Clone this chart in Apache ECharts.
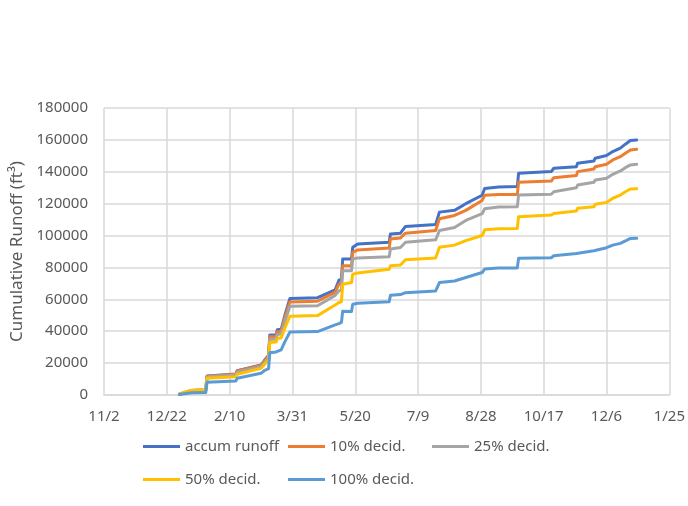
<!DOCTYPE html>
<html>
<head>
<meta charset="utf-8">
<script src="https://cdn.jsdelivr.net/npm/echarts@6/dist/echarts.min.js"></script>
<style>
  html, body { margin: 0; padding: 0; background: #ffffff; }
  #chart { width: 688px; height: 506px; }
</style>
</head>
<body>
<div id="chart"></div>
<script>
// Date axis: runs from 11/2 to 1/25 with a tick every 50 days
const axisStart = '2015-11-02';
const axisEnd = '2017-01-25';
const tickStepDays = 50;

// Value axis ticks (ft³)
const yMin = 0;
const yMax = 180000;
const yStep = 20000;

const seriesNames = ['accum runoff', '10% decid.', '25% decid.', '50% decid.', '100% decid.'];

// Daily readings of the cumulative runoff record
const dates = [
  '2016-01-01', '2016-01-05', '2016-01-11', '2016-01-22', '2016-01-23',
  '2016-02-15', '2016-02-16', '2016-03-06', '2016-03-09', '2016-03-12',
  '2016-03-13', '2016-03-18', '2016-03-19', '2016-03-22', '2016-03-25',
  '2016-03-29', '2016-04-20', '2016-05-04', '2016-05-07', '2016-05-09',
  '2016-05-10', '2016-05-17', '2016-05-18', '2016-05-22', '2016-06-16',
  '2016-06-17', '2016-06-25', '2016-06-29', '2016-07-23', '2016-07-26',
  '2016-08-07', '2016-08-16', '2016-08-29', '2016-08-31', '2016-09-11',
  '2016-09-26', '2016-09-27', '2016-10-23', '2016-10-25', '2016-11-12',
  '2016-11-13', '2016-11-26', '2016-11-27', '2016-12-06', '2016-12-11',
  '2016-12-17', '2016-12-21', '2016-12-25', '2016-12-30'
];

const accumRunoff = [
  500, 1500, 2800, 3100, 11900,
  13200, 15300, 18800, 22000, 25000,
  37700, 37700, 41000, 41200, 50000,
  60500, 61000, 66000, 72000, 72600,
  85300, 85300, 92600, 94700, 95800,
  101000, 101500, 105700, 107000, 114700,
  115800, 120000, 125300, 129500, 130500,
  130700, 139000, 140100, 142200, 143200,
  145300, 146800, 148500, 150200, 152700,
  154800, 157300, 159600, 160000
];

const decid10 = [
  500, 1500, 2800, 3100, 11800,
  13000, 15000, 18500, 21500, 24500,
  36500, 36500, 39700, 40000, 48500,
  58400, 58800, 64500, 69500, 70000,
  81000, 81000, 89500, 91000, 92200,
  97900, 98500, 101500, 103200, 110500,
  112600, 115800, 122000, 125300, 125700,
  125800, 133400, 134200, 136300, 137600,
  140100, 141800, 143200, 144700, 147400,
  149500, 151600, 153700, 154100
];

const decid25 = [
  500, 1500, 2800, 3100, 11300,
  12500, 14300, 17800, 20500, 23500,
  35000, 35000, 38000, 38300, 46000,
  55600, 56000, 62500, 65300, 66000,
  77900, 78000, 85300, 86000, 86700,
  91600, 92500, 95800, 97300, 103200,
  105000, 109500, 113700, 116800, 117900,
  118100, 125400, 125900, 127500, 130000,
  131700, 133400, 134900, 135900, 138400,
  140500, 142600, 144300, 144700
];

const decid50 = [
  600, 1700, 3000, 3300, 10500,
  11500, 13000, 16700, 19500, 22000,
  33000, 33200, 35600, 35800, 42000,
  49400, 49800, 56500, 58000, 58500,
  69500, 70500, 75800, 76500, 78800,
  81000, 81500, 84800, 85900, 92600,
  94000, 96800, 100000, 103600, 104200,
  104500, 111800, 112900, 113900, 115400,
  117100, 118100, 119600, 120800, 123400,
  125400, 127500, 129200, 129300
];

const decid100 = [
  300, 800, 1400, 1500, 8000,
  8800, 10500, 13600, 15500, 16500,
  26500, 27000, 28200, 28300, 33500,
  39500, 39800, 44000, 44800, 45500,
  52600, 52300, 56900, 57500, 58500,
  62500, 63000, 64200, 65300, 70500,
  71500, 73700, 76800, 79000, 79600,
  79700, 85700, 86100, 87300, 88800,
  89900, 90500, 91500, 92400, 94000,
  95100, 96600, 98200, 98300
];

const seriesValues = [accumRunoff, decid10, decid25, decid50, decid100];
const seriesColors = ['#4472C4', '#ED7D31', '#A5A5A5', '#FFC000', '#5B9BD5'];

const DAY = 86400000;
const t0 = Date.parse(axisStart + 'T00:00:00Z');
const dayOffset = (s) => Math.round((Date.parse(s + 'T00:00:00Z') - t0) / DAY);
const axisSpan = dayOffset(axisEnd);

function tickLabel(v) {
  const d = new Date(t0 + v * DAY);
  return (d.getUTCMonth() + 1) + '/' + d.getUTCDate();
}

const fontFamily = '"Noto Sans", "Open Sans", sans-serif';
const textGrey = '#595959';
const gridGrey = '#D9D9D9';

const series = seriesNames.map((name, i) => ({
  name: name,
  type: 'line',
  symbol: 'none',
  z: 2 + i,
  data: dates.map((d, k) => [dayOffset(d), seriesValues[i][k]]),
  lineStyle: { width: 3, color: seriesColors[i], cap: 'round', join: 'round' },
  itemStyle: { color: seriesColors[i] },
  animation: false
}));

// One legend block per entry so the entries sit in fixed columns
const legendSlots = [
  { left: 143, top: 439 },
  { left: 288, top: 439 },
  { left: 432, top: 439 },
  { left: 143, top: 472 },
  { left: 288, top: 472 }
];
const legends = seriesNames.map((name, i) => ({
  data: [name],
  left: legendSlots[i].left,
  top: legendSlots[i].top,
  icon: 'rect',
  itemWidth: 37,
  itemHeight: 3,
  padding: 0,
  selectedMode: false,
  textStyle: { color: textGrey, fontSize: 15, fontFamily: fontFamily }
}));

const chart = echarts.init(document.getElementById('chart'), null, { renderer: 'canvas' });
chart.setOption({
  animation: false,
  backgroundColor: '#ffffff',
  color: seriesColors,
  grid: { left: 104, right: 18, top: 108, bottom: 111, containLabel: false },
  legend: legends,
  xAxis: {
    type: 'value',
    min: 0,
    max: axisSpan,
    interval: tickStepDays,
    axisLine: { show: true, lineStyle: { color: gridGrey, width: 1.5 } },
    axisTick: { show: false },
    splitLine: { show: true, lineStyle: { color: gridGrey, width: 1.5 } },
    axisLabel: {
      formatter: tickLabel,
      color: textGrey,
      fontSize: 15,
      fontFamily: fontFamily,
      margin: 14,
      showMinLabel: true,
      showMaxLabel: true
    }
  },
  yAxis: {
    type: 'value',
    min: yMin,
    max: yMax,
    interval: yStep,
    name: 'Cumulative Runoff (ft³)',
    nameLocation: 'middle',
    nameGap: 66,
    nameTextStyle: { color: textGrey, fontSize: 17, fontFamily: fontFamily },
    axisLine: { show: false },
    axisTick: { show: false },
    splitLine: { show: true, lineStyle: { color: gridGrey, width: 1.5 } },
    axisLabel: {
      formatter: (v) => String(v),
      color: textGrey,
      fontSize: 15,
      fontFamily: fontFamily,
      margin: 16
    }
  },
  series: series
});
</script>
</body>
</html>
